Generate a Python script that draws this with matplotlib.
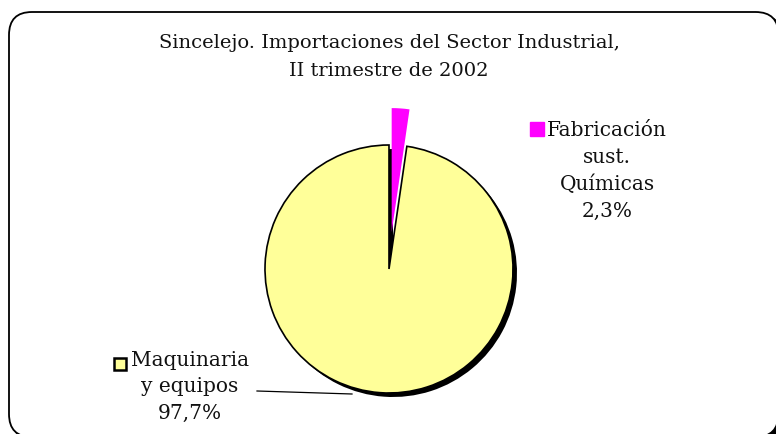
import matplotlib.pyplot as plt
from matplotlib.patches import FancyBboxPatch

# Data
categories = ["Maquinaria\ny equipos", "Fabricación\nsust.\nQuímicas"]
shares = [97.7, 2.3]
colors = ["#FFFF99", "#FF00FF"]
title = "Sincelejo. Importaciones del Sector Industrial,\nII trimestre de 2002"

W, H = 776, 434
fig = plt.figure(figsize=(W / 100, H / 100), dpi=100)
ax = fig.add_axes([0, 0, 1, 1])

# rounded chart border, with its shadow showing only at bottom right
shadow_box = FancyBboxPatch((12, -6), 770, 425,
                            boxstyle="round,pad=0,rounding_size=23",
                            fc="black", ec="black", lw=1, zorder=0)
box = FancyBboxPatch((9, -3), 769.5, 425,
                     boxstyle="round,pad=0,rounding_size=23",
                     fc="white", ec="black", lw=1.3, zorder=0.5)
ax.add_patch(shadow_box)
ax.add_patch(box)

cx, cy, r = 389, H - 269, 124
explode = [0, 37]

# shadow of the pie (big slice only)
ax.pie(shares, explode=explode, colors=["black", "none"], startangle=90,
       radius=r, center=(cx + 4, cy - 4), wedgeprops=dict(lw=0), frame=True)
# pie
wedges, _ = ax.pie(shares, explode=explode, colors=colors, startangle=90,
                   radius=r, center=(cx, cy), wedgeprops=dict(lw=0), frame=True)
wedges[0].set_edgecolor("black")
wedges[0].set_linewidth(1.2)

ax.set_xlim(0, W)
ax.set_ylim(0, H)
ax.set_aspect("equal")
ax.axis("off")

font = dict(family="DejaVu Serif", color="#111111")

ax.text(W / 2 + 1, H - 57, title, ha="center", va="center", fontsize=14,
        linespacing=1.7, **font)

# labels
lab0 = categories[0] + "\n" + f"{shares[0]:.1f}%".replace(".", ",")
lab1 = categories[1] + "\n" + f"{shares[1]:.1f}%".replace(".", ",")
ax.text(190, H - 387, lab0, ha="center", va="center", fontsize=14.5,
        linespacing=1.5, **font)
ax.text(607, H - 171, lab1, ha="center", va="center", fontsize=14.5,
        linespacing=1.5, **font)
ax.plot([120], [H - 364], marker="s", ms=9, mfc=colors[0], mec="black",
        mew=1.8, ls="none")
ax.plot([537], [H - 129], marker="s", ms=10, mfc=colors[1], mec=colors[1],
        ls="none")
ax.plot([257, 352], [H - 391, H - 394], color="black", lw=0.9)

fig.savefig("out.png", dpi=100)
